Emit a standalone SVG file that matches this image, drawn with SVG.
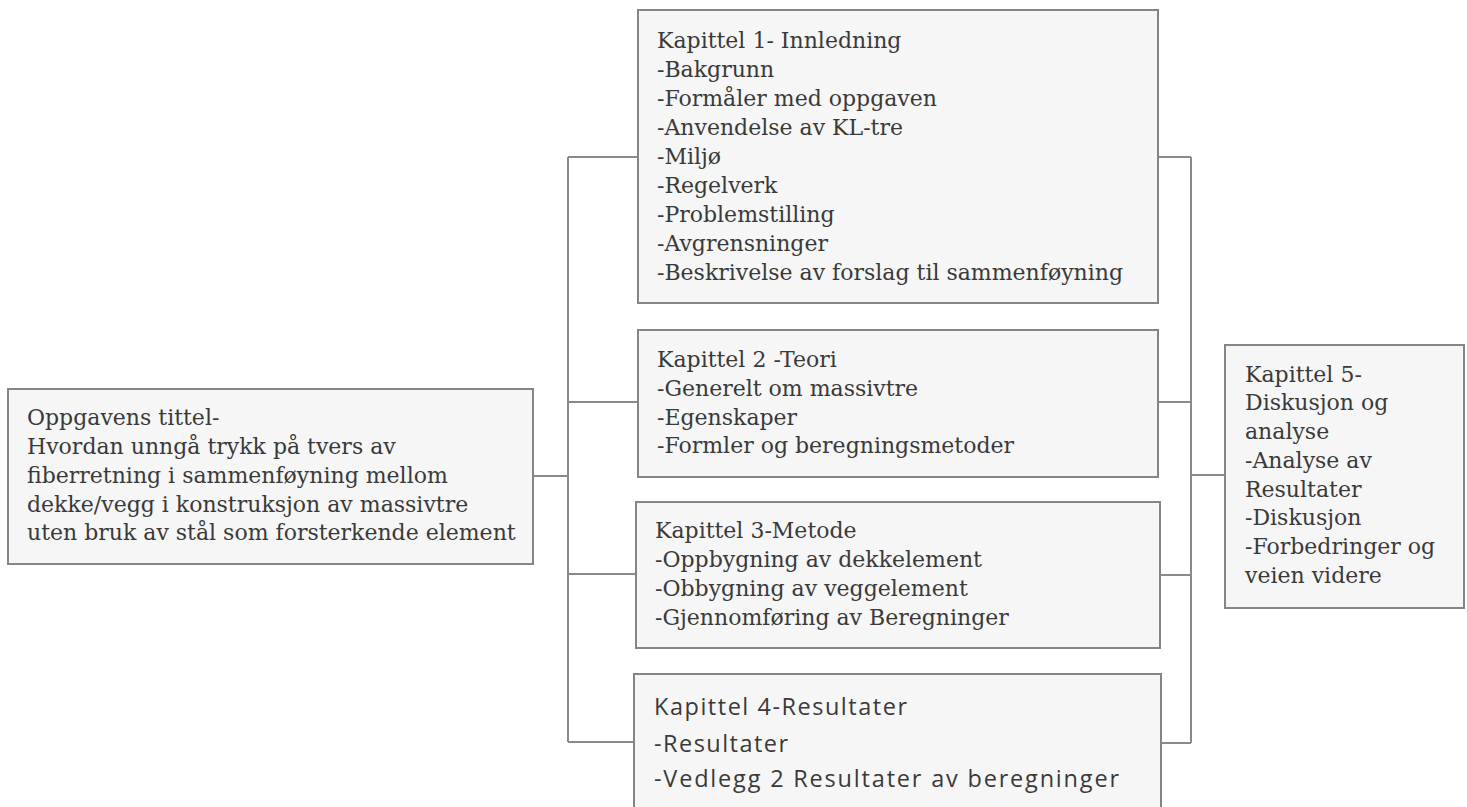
<svg xmlns="http://www.w3.org/2000/svg" width="1467" height="807" viewBox="0 0 1467 807">
<style>
.box{fill:#f6f6f6;stroke:#858585;stroke-width:2}
.ln{fill:none;stroke:#8a8a8a;stroke-width:2}
.s{font-family:'DejaVu Serif','Liberation Serif',serif;font-size:22px;fill:#3a3a3a}
.ss{font-family:'Open Sans','Noto Sans',sans-serif;font-size:23.5px;fill:#3a3a3a}
</style>
<rect width="1467" height="807" fill="#ffffff"/>
<g id="connectors">
<path class="ln" d="M533,476 H568 M568,157 V742 M568,157 H638 M568,402 H638 M568,574 H636 M568,742 H634"/>
<path class="ln" d="M1158,157 H1191 M1158,402 H1191 M1160,575 H1191 M1161,743 H1191 M1191,157 V743 M1191,475 H1225"/>
</g>
<g id="title">
<rect class="box" x="8" y="389" width="525" height="175"/>
<text class="s"><tspan x="27" y="425">Oppgavens tittel-</tspan><tspan x="27" y="454">Hvordan unngå trykk på tvers av</tspan><tspan x="27" y="483">fiberretning i sammenføyning mellom</tspan><tspan x="27" y="512">dekke/vegg i konstruksjon av massivtre</tspan><tspan x="27" y="540">uten bruk av stål som forsterkende element</tspan></text>
</g>
<g id="kap1">
<rect class="box" x="638" y="10" width="520" height="293"/>
<text class="s"><tspan x="657" y="48">Kapittel 1- Innledning</tspan><tspan x="657" y="77">-Bakgrunn</tspan><tspan x="657" y="106">-Formåler med oppgaven</tspan><tspan x="657" y="135">-Anvendelse av KL-tre</tspan><tspan x="657" y="164">-Miljø</tspan><tspan x="657" y="193">-Regelverk</tspan><tspan x="657" y="222">-Problemstilling</tspan><tspan x="657" y="251">-Avgrensninger</tspan><tspan x="657" y="280">-Beskrivelse av forslag til sammenføyning</tspan></text>
</g>
<g id="kap2">
<rect class="box" x="638" y="330" width="520" height="147"/>
<text class="s"><tspan x="657" y="367">Kapittel 2 -Teori</tspan><tspan x="657" y="396">-Generelt om massivtre</tspan><tspan x="657" y="425">-Egenskaper</tspan><tspan x="657" y="453">-Formler og beregningsmetoder</tspan></text>
</g>
<g id="kap3">
<rect class="box" x="636" y="502" width="524" height="146"/>
<text class="s"><tspan x="655" y="538">Kapittel 3-Metode</tspan><tspan x="655" y="567">-Oppbygning av dekkelement</tspan><tspan x="655" y="596">-Obbygning av veggelement</tspan><tspan x="655" y="625">-Gjennomføring av Beregninger</tspan></text>
</g>
<g id="kap4">
<rect class="box" x="634" y="674" width="527" height="150"/>
<text class="ss" x="654" y="715" textLength="253" lengthAdjust="spacing">Kapittel 4-Resultater</text>
<text class="ss" x="654" y="752" textLength="134" lengthAdjust="spacing">-Resultater</text>
<text class="ss" x="654" y="787" textLength="465" lengthAdjust="spacing">-Vedlegg 2 Resultater av beregninger</text>
</g>
<g id="kap5">
<rect class="box" x="1225" y="345" width="239" height="263"/>
<text class="s"><tspan x="1245" y="382">Kapittel 5-</tspan><tspan x="1245" y="410">Diskusjon og</tspan><tspan x="1245" y="439">analyse</tspan><tspan x="1245" y="468">-Analyse av</tspan><tspan x="1245" y="497">Resultater</tspan><tspan x="1245" y="525">-Diskusjon</tspan><tspan x="1245" y="554">-Forbedringer og</tspan><tspan x="1245" y="583">veien videre</tspan></text>
</g>
</svg>
